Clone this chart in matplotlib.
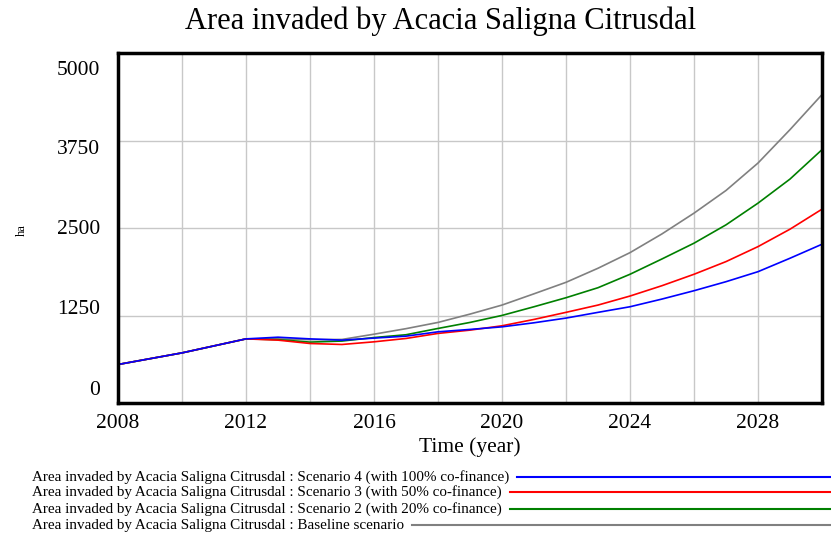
import matplotlib
matplotlib.use("Agg")
import matplotlib.pyplot as plt
import matplotlib.transforms as mtransforms
from matplotlib.lines import Line2D

plt.rcParams['font.family'] = ['Liberation Serif', 'DejaVu Serif']

# data (ha per year)
years = list(range(2008, 2031))
baseline = [550, 633, 716, 816, 916, 916, 905, 908, 983, 1062, 1151, 1270, 1399,
            1560, 1724, 1925, 2148, 2416, 2712, 3036, 3428, 3905, 4406]
scen2 = [550, 633, 716, 816, 916, 905, 870, 885, 935, 975, 1065, 1151, 1251,
         1375, 1504, 1647, 1839, 2058, 2283, 2545, 2855, 3199, 3619]
scen3 = [550, 633, 716, 816, 916, 898, 850, 836, 874, 922, 994, 1041, 1103,
         1194, 1295, 1399, 1528, 1676, 1839, 2020, 2234, 2483, 2769]
scen4 = [550, 633, 716, 816, 916, 940, 916, 898, 927, 955, 1017, 1051, 1088,
         1146, 1213, 1295, 1375, 1485, 1604, 1733, 1876, 2068, 2268]

series_names = [
    "Area invaded by Acacia Saligna Citrusdal : Scenario 4 (with 100% co-finance)",
    "Area invaded by Acacia Saligna Citrusdal : Scenario 3 (with 50% co-finance)",
    "Area invaded by Acacia Saligna Citrusdal : Scenario 2 (with 20% co-finance)",
    "Area invaded by Acacia Saligna Citrusdal : Baseline scenario",
]
series_vals = [scen4, scen3, scen2, baseline]
colors = ['#0000ff', '#ff0000', '#008000', '#808080']

yticks = [0, 1250, 2500, 3750, 5000]
xticks = [2008, 2012, 2016, 2020, 2024, 2028]

fig = plt.figure(figsize=(8.31, 5.35), dpi=100)
ax = fig.add_axes([118 / 831, 1 - 403 / 535, (822 - 118) / 831, (403 - 53) / 535])

# baseline drawn first so the scenario lines sit on top
for vals, c in list(zip(series_vals, colors))[::-1]:
    ax.plot(years, vals, color=c, lw=1.2)

ax.set_xlim(2008, 2030)
ax.set_ylim(0, 5000)
ax.set_xticks(xticks)
ax.set_xticks(range(2008, 2031, 2), minor=True)
ax.set_yticks(yticks)
ax.set_yticklabels([str(v) for v in yticks])
ax.grid(True, which='both', axis='x', color='#c8c8c8', lw=1)
ax.grid(True, which='major', axis='y', color='#c8c8c8', lw=1)
ax.tick_params(which='both', length=0, labelsize=15.5)
ax.tick_params(axis='x', pad=8)
ax.tick_params(axis='y', pad=13)
for s in ax.spines.values():
    s.set_linewidth(2.5)

# vensim spreads the y labels a bit inside the axis range
offsets_px = [15, 8, 1, -6, -15]
for lab, off in zip(ax.get_yticklabels(), offsets_px):
    lab.set_transform(lab.get_transform() +
                      mtransforms.ScaledTranslation(0, off / 100, fig.dpi_scale_trans))

ax.set_xlabel("Time (year)", fontsize=15.5, labelpad=3)
fig.text(22 / 831, 1 - 230 / 535, "ha", rotation=90, fontsize=9,
         ha='center', va='center')
fig.text(441 / 831, 1 - 21 / 535, "Area invaded by Acacia Saligna Citrusdal",
         fontsize=22, ha='center', va='center')

# legend rows below the plot, each with a line running to the right edge
fig.canvas.draw()
r = fig.canvas.get_renderer()
row_y = [477, 492, 509, 525]
for name, c, yy in zip(series_names, colors, row_y):
    t = fig.text(32 / 831, 1 - yy / 535, name, fontsize=10.9, ha='left', va='center')
    bb = t.get_window_extent(renderer=r)
    x0 = (bb.x1 + 8) / 831
    fig.add_artist(Line2D([x0, 1.0], [1 - yy / 535, 1 - yy / 535], color=c, lw=1.5,
                          transform=fig.transFigure))

fig.savefig("out.png", dpi=100)
